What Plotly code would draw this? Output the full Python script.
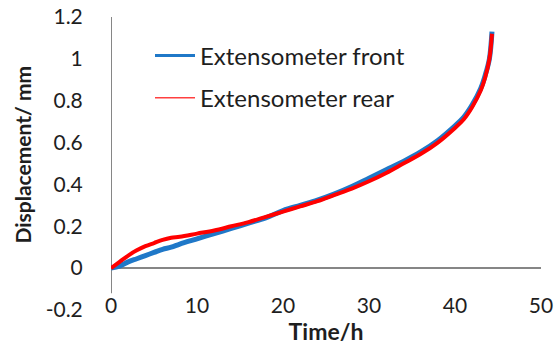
import plotly.graph_objects as go

# Time (h)
time_front = [0, 1, 2, 3, 4, 5, 6, 7, 8, 10, 12, 14, 16, 18, 20, 22, 24, 26, 28, 30,
              32, 34, 36, 38, 40, 41, 42, 43, 43.5, 44, 44.3]
disp_front = [0, 0.01, 0.03, 0.045, 0.06, 0.075, 0.09, 0.10, 0.115, 0.14, 0.165, 0.19,
              0.215, 0.24, 0.275, 0.30, 0.325, 0.355, 0.39, 0.43, 0.47, 0.51, 0.555,
              0.61, 0.68, 0.72, 0.78, 0.86, 0.92, 1.00, 1.13]

time_rear = [0, 1, 2, 3, 4, 5, 6, 7, 8, 10, 12, 14, 16, 18, 20, 22, 24, 26, 28, 30,
             32, 34, 36, 38, 40, 41, 42, 43, 43.5, 44, 44.3]
disp_rear = [0, 0.03, 0.06, 0.085, 0.105, 0.12, 0.135, 0.145, 0.15, 0.165, 0.18, 0.20,
             0.22, 0.245, 0.27, 0.295, 0.32, 0.35, 0.38, 0.415, 0.455, 0.50, 0.545,
             0.60, 0.67, 0.71, 0.77, 0.85, 0.91, 1.00, 1.12]

x_ticks = [0, 10, 20, 30, 40, 50]
y_ticks = [-0.2, 0, 0.2, 0.4, 0.6, 0.8, 1.0, 1.2]
y_tick_text = ["-0.2", "0", "0.2", "0.4", "0.6", "0.8", "1", "1.2"]

FONT = "Lato"
TEXT = "#1e1e1e"
AXIS_GRAY = "#868686"
BLUE = "#1f78c8"
RED = "#ff0000"

fig = go.Figure()
fig.add_trace(go.Scatter(x=time_front, y=disp_front, mode="lines",
                         name="Extensometer front", showlegend=False,
                         line=dict(color=BLUE, width=5, shape="spline")))
fig.add_trace(go.Scatter(x=time_rear, y=disp_rear, mode="lines",
                         name="Extensometer rear", showlegend=False,
                         line=dict(color=RED, width=4, shape="spline")))
# legend entries (thin line samples as in the original)
fig.add_trace(go.Scatter(x=[None], y=[None], mode="lines", name="Extensometer front",
                         legendgroup="a", line=dict(color=BLUE, width=3)))
fig.add_trace(go.Scatter(x=[None], y=[None], mode="lines", name="Extensometer rear",
                         legendgroup="b", line=dict(color="#ff4040", width=1.5)))

fig.add_shape(type="line", xref="x", yref="y", x0=0, x1=0, y0=-0.12, y1=1.2,
              line=dict(color=AXIS_GRAY, width=2), layer="below")

fig.add_annotation(text="<b>Displacement/ mm</b>", textangle=-90,
                   xref="paper", yref="paper", x=-0.208, y=0.529,
                   xanchor="center", yanchor="middle", showarrow=False,
                   font=dict(family=FONT, size=21, color=TEXT))

fig.update_layout(
    width=557, height=350,
    margin=dict(l=111, r=16, t=17, b=40),
    plot_bgcolor="white", paper_bgcolor="white",
    font=dict(family=FONT, size=21, color=TEXT),
    showlegend=True,
    legend=dict(x=0.0907, y=0.944, xanchor="left", yanchor="top",
                bgcolor="rgba(0,0,0,0)", tracegroupgap=8, itemwidth=40,
                font=dict(family=FONT, size=24, color=TEXT)),
    xaxis=dict(range=[0, 50], tickvals=x_ticks, showgrid=False, zeroline=False,
               showline=False, ticks="", anchor="free", position=0.065,
               automargin=False,
               tickfont=dict(family=FONT, size=21, color=TEXT),
               title=dict(text="<b>Time/h</b>", standoff=0,
                          font=dict(family=FONT, size=23, color=TEXT))),
    yaxis=dict(range=[-0.2, 1.2], tickvals=y_ticks, ticktext=y_tick_text,
               showgrid=False, zeroline=True, zerolinecolor=AXIS_GRAY,
               zerolinewidth=2, showline=False, ticks="outside", ticklen=23,
               tickcolor="rgba(0,0,0,0)", automargin=False,
               tickfont=dict(family=FONT, size=21, color=TEXT)),
)

fig.write_html("out.html")
